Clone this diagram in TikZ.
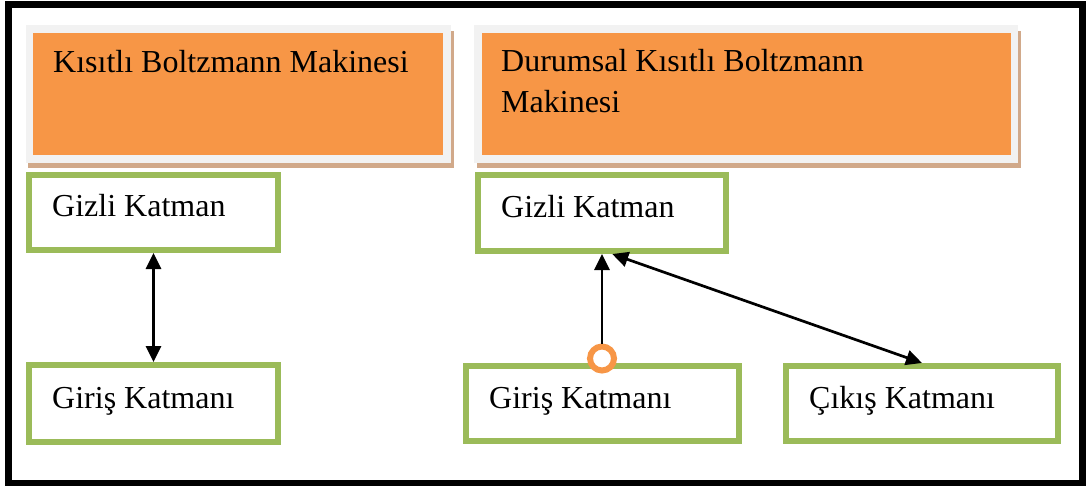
\documentclass[tikz,border=0pt]{standalone}
\usepackage{fontspec}
\setmainfont{Liberation Serif}
\usetikzlibrary{arrows.meta}
\definecolor{boxorange}{HTML}{F79646}
\definecolor{boxgreen}{HTML}{9BBB59}
\definecolor{rimgrey}{HTML}{F2F2F2}
\definecolor{shadowtan}{HTML}{D1A98A}
\tikzset{%
  myedge/.style={-{Triangle[length=16pt,width=15pt]}, line width=2.7pt},
  mytwoway/.style={{Triangle[length=16pt,width=15pt]}-{Triangle[length=16pt,width=15pt]}, line width=2.7pt},
  mytitle/.style={rectangle, fill=boxorange, draw=rimgrey, line width=7.5pt, minimum height=130pt},
  mylayer/.style={rectangle, draw=boxgreen, line width=6pt, fill=white, minimum height=75pt},
  mytext/.style={anchor=base west, inner sep=0pt, font=\fontsize{32}{41}\selectfont}
}

\begin{document}
\begin{tikzpicture}[x=1pt, y=-1pt]
\useasboundingbox (0,0) rectangle (1086,486);

% frame
\begin{scope}
\clip (0,0) rectangle (1086,486);
\draw [line width=7pt] (8.5,5) rectangle (1082.5,483);
\end{scope}

% shadows
\fill [shadowtan] (28,31) rectangle (454,168);
\fill [shadowtan] (477,31) rectangle (1021,168);

% title boxes
\node [mytitle, minimum width=417.5pt] (KBM) at (238.25,94) {};
\node [mytitle, minimum width=536.5pt] (DKBM) at (746,94) {};

\node [mytext] (KBMtext) at (53,73) {Kısıtlı Boltzmann Makinesi};
% base of last line
\node [mytext, align=left] (DKBMtext) at (501,113) {Durumsal Kısıtlı Boltzmann\\Makinesi};

% layers
\node [mylayer, minimum width=249pt] (LGizli) at (153.5,212.5) {};
\node [mylayer, minimum width=249pt, minimum height=77pt] (LGiris) at (153.5,403.5) {};
\node [mylayer, minimum width=248pt, minimum height=76pt] (RGizli) at (602,213) {};
\node [mylayer, minimum width=273pt] (RGiris) at (602.5,403.5) {};
\node [mylayer, minimum width=272pt] (Cikis) at (922,403.5) {};

\node [mytext] (LGizlitext) at (52,217) {Gizli Katman};
\node [mytext] (LGiristext) at (52,408) {Giriş Katmanı};
\node [mytext] (RGizlitext) at (501,218) {Gizli Katman};
\node [mytext] (RGiristext) at (489,408) {Giriş Katmanı};
\node [mytext] (Cikistext) at (809,408) {Çıkış Katmanı};

% condition
\node [circle, draw=boxorange, line width=6pt, fill=white, minimum size=24pt, inner sep=0pt] (C) at (602,358.5) {};

% arrows
\draw [mytwoway] (LGizli) -- (LGiris);
\draw [myedge] (C) -- (RGizli);
\draw [mytwoway] (RGizli.-76) -- (Cikis.north);

\end{tikzpicture}
\end{document}
